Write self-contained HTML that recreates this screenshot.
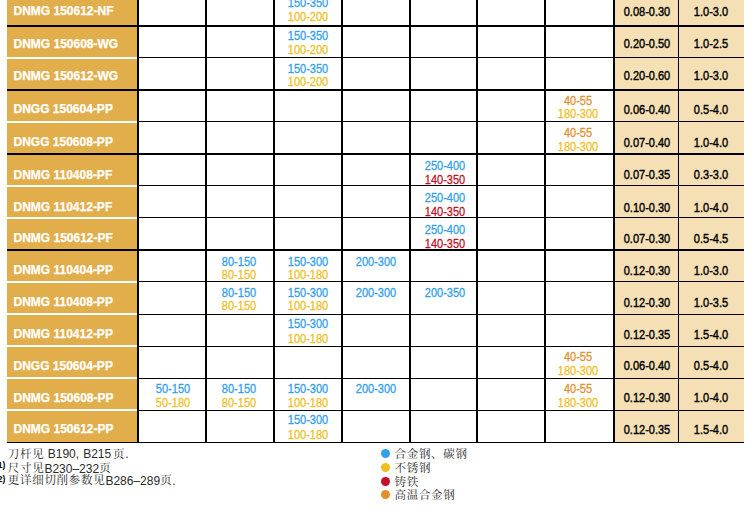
<!DOCTYPE html>
<html lang="zh-CN"><head><meta charset="utf-8"><title>DNMG</title>
<style>
html,body{margin:0;padding:0;background:#fff;}
body{width:755px;height:519px;position:relative;overflow:hidden;font-family:"Liberation Sans","Noto Sans CJK SC",sans-serif;}
.a{position:absolute;}
.k{background:#000;}
.w{background:#fff;}
.t{position:absolute;width:80px;margin-left:-40px;text-align:center;font-size:12px;line-height:12px;height:12px;white-space:nowrap;-webkit-text-stroke:0.3px currentColor;transform:scaleX(0.917);}
.n{position:absolute;left:13.5px;font-size:12px;line-height:12px;font-weight:bold;color:#fff;white-space:nowrap;-webkit-text-stroke:0.25px #fff;}
.v{color:#000;-webkit-text-stroke:0.4px #000;}
.f{position:absolute;white-space:nowrap;font-size:12px;line-height:14px;height:14px;color:#2a2a2a;}
.f .c{font-family:"Noto Serif CJK SC","Noto Sans CJK SC",serif;font-size:11.5px;letter-spacing:0.7px;font-weight:400;position:relative;top:-0.6px;}
.s{position:absolute;font-weight:bold;font-size:8.5px;line-height:8px;color:#000;}
.d{position:absolute;width:9px;height:9px;border-radius:50%;}
</style></head><body>

<div class="a" style="left:7px;top:0;width:130px;height:442px;background:#E2AE4C"></div>
<div class="a" style="left:615px;top:0;width:129px;height:442px;background:#F5E0B5"></div>
<div class="a k" style="left:7px;top:25px;width:130px;height:2px"></div>
<div class="a w" style="left:7px;top:57px;width:130px;height:2px"></div>
<div class="a k" style="left:7px;top:89px;width:130px;height:2px"></div>
<div class="a w" style="left:7px;top:121px;width:130px;height:2px"></div>
<div class="a k" style="left:7px;top:153px;width:130px;height:2px"></div>
<div class="a w" style="left:7px;top:185px;width:130px;height:2px"></div>
<div class="a w" style="left:7px;top:217px;width:130px;height:2px"></div>
<div class="a k" style="left:7px;top:249px;width:130px;height:2px"></div>
<div class="a w" style="left:7px;top:281px;width:130px;height:2px"></div>
<div class="a w" style="left:7px;top:313px;width:130px;height:2px"></div>
<div class="a w" style="left:7px;top:345px;width:130px;height:2px"></div>
<div class="a w" style="left:7px;top:377px;width:130px;height:2px"></div>
<div class="a w" style="left:7px;top:409px;width:130px;height:2px"></div>
<div class="a k" style="left:137px;top:25px;width:607px;height:2px"></div>
<div class="a k" style="left:137px;top:57px;width:607px;height:1px"></div>
<div class="a k" style="left:137px;top:89px;width:607px;height:2px"></div>
<div class="a k" style="left:137px;top:121px;width:607px;height:1px"></div>
<div class="a k" style="left:137px;top:153px;width:607px;height:2px"></div>
<div class="a k" style="left:137px;top:185px;width:607px;height:1px"></div>
<div class="a k" style="left:137px;top:217px;width:607px;height:1px"></div>
<div class="a k" style="left:137px;top:249px;width:607px;height:2px"></div>
<div class="a k" style="left:137px;top:281px;width:607px;height:1px"></div>
<div class="a k" style="left:137px;top:314px;width:607px;height:1px"></div>
<div class="a k" style="left:137px;top:346px;width:607px;height:1px"></div>
<div class="a k" style="left:137px;top:378px;width:607px;height:1px"></div>
<div class="a k" style="left:137px;top:410px;width:607px;height:1px"></div>
<div class="a k" style="left:7px;top:442px;width:737px;height:1px"></div>
<div class="a k" style="left:137px;top:0;width:2px;height:443px"></div>
<div class="a k" style="left:205px;top:0;width:2px;height:443px"></div>
<div class="a k" style="left:273px;top:0;width:2px;height:443px"></div>
<div class="a k" style="left:341px;top:0;width:2px;height:443px"></div>
<div class="a k" style="left:409px;top:0;width:2px;height:443px"></div>
<div class="a k" style="left:476px;top:0;width:2px;height:443px"></div>
<div class="a k" style="left:544px;top:0;width:2px;height:443px"></div>
<div class="a k" style="left:613px;top:0;width:2px;height:443px"></div>
<div class="a k" style="left:678px;top:0;width:1px;height:443px"></div>
<div class="n" style="top:5.10px">DNMG 150612-NF</div>
<div class="n" style="top:38.10px">DNMG 150608-WG</div>
<div class="n" style="top:70.10px">DNMG 150612-WG</div>
<div class="n" style="top:103.10px">DNGG 150604-PP</div>
<div class="n" style="top:136.10px">DNGG 150608-PP</div>
<div class="n" style="top:169.10px">DNMG 110408-PF</div>
<div class="n" style="top:201.10px">DNMG 110412-PF</div>
<div class="n" style="top:232.10px">DNMG 150612-PF</div>
<div class="n" style="top:264.10px">DNMG 110404-PP</div>
<div class="n" style="top:296.10px">DNMG 110408-PP</div>
<div class="n" style="top:328.10px">DNMG 110412-PP</div>
<div class="n" style="top:360.10px">DNGG 150604-PP</div>
<div class="n" style="top:392.10px">DNMG 150608-PP</div>
<div class="n" style="top:423.10px">DNMG 150612-PP</div>
<div class="t v" style="left:647px;top:6.10px">0.08-0.30</div>
<div class="t v" style="left:711.2px;top:6.10px">1.0-3.0</div>
<div class="t v" style="left:647px;top:38.10px">0.20-0.50</div>
<div class="t v" style="left:711.2px;top:38.10px">1.0-2.5</div>
<div class="t v" style="left:647px;top:70.10px">0.20-0.60</div>
<div class="t v" style="left:711.2px;top:70.10px">1.0-3.0</div>
<div class="t v" style="left:647px;top:104.10px">0.06-0.40</div>
<div class="t v" style="left:711.2px;top:104.10px">0.5-4.0</div>
<div class="t v" style="left:647px;top:137.10px">0.07-0.40</div>
<div class="t v" style="left:711.2px;top:137.10px">1.0-4.0</div>
<div class="t v" style="left:647px;top:169.10px">0.07-0.35</div>
<div class="t v" style="left:711.2px;top:169.10px">0.3-3.0</div>
<div class="t v" style="left:647px;top:202.10px">0.10-0.30</div>
<div class="t v" style="left:711.2px;top:202.10px">1.0-4.0</div>
<div class="t v" style="left:647px;top:233.10px">0.07-0.30</div>
<div class="t v" style="left:711.2px;top:233.10px">0.5-4.5</div>
<div class="t v" style="left:647px;top:265.10px">0.12-0.30</div>
<div class="t v" style="left:711.2px;top:265.10px">1.0-3.0</div>
<div class="t v" style="left:647px;top:297.10px">0.12-0.30</div>
<div class="t v" style="left:711.2px;top:297.10px">1.0-3.5</div>
<div class="t v" style="left:647px;top:329.10px">0.12-0.35</div>
<div class="t v" style="left:711.2px;top:329.10px">1.5-4.0</div>
<div class="t v" style="left:647px;top:360.10px">0.06-0.40</div>
<div class="t v" style="left:711.2px;top:360.10px">0.5-4.0</div>
<div class="t v" style="left:647px;top:392.10px">0.12-0.30</div>
<div class="t v" style="left:711.2px;top:392.10px">1.0-4.0</div>
<div class="t v" style="left:647px;top:424.10px">0.12-0.35</div>
<div class="t v" style="left:711.2px;top:424.10px">1.5-4.0</div>
<div class="t" style="left:307.7px;top:-2.90px;color:#31A1EB">150-350</div>
<div class="t" style="left:307.7px;top:11.10px;color:#EFBF1F">100-200</div>
<div class="t" style="left:307.7px;top:30.10px;color:#31A1EB">150-350</div>
<div class="t" style="left:307.7px;top:44.10px;color:#EFBF1F">100-200</div>
<div class="t" style="left:307.7px;top:63.10px;color:#31A1EB">150-350</div>
<div class="t" style="left:307.7px;top:76.10px;color:#EFBF1F">100-200</div>
<div class="t" style="left:577.5px;top:95.10px;color:#E2902F">40-55</div>
<div class="t" style="left:577.5px;top:108.10px;color:#EFBF1F">180-300</div>
<div class="t" style="left:577.5px;top:127.10px;color:#E2902F">40-55</div>
<div class="t" style="left:577.5px;top:141.10px;color:#EFBF1F">180-300</div>
<div class="t" style="left:445.4px;top:160.10px;color:#31A1EB">250-400</div>
<div class="t" style="left:445.4px;top:174.10px;color:#C4102A">140-350</div>
<div class="t" style="left:445.4px;top:192.10px;color:#31A1EB">250-400</div>
<div class="t" style="left:445.4px;top:206.10px;color:#C4102A">140-350</div>
<div class="t" style="left:445.4px;top:224.10px;color:#31A1EB">250-400</div>
<div class="t" style="left:445.4px;top:238.10px;color:#C4102A">140-350</div>
<div class="t" style="left:238.6px;top:256.10px;color:#31A1EB">80-150</div>
<div class="t" style="left:238.6px;top:269.10px;color:#EFBF1F">80-150</div>
<div class="t" style="left:307.7px;top:256.10px;color:#31A1EB">150-300</div>
<div class="t" style="left:307.7px;top:269.10px;color:#EFBF1F">100-180</div>
<div class="t" style="left:375.6px;top:256.10px;color:#31A1EB">200-300</div>
<div class="t" style="left:238.6px;top:287.10px;color:#31A1EB">80-150</div>
<div class="t" style="left:238.6px;top:300.10px;color:#EFBF1F">80-150</div>
<div class="t" style="left:307.7px;top:287.10px;color:#31A1EB">150-300</div>
<div class="t" style="left:307.7px;top:300.10px;color:#EFBF1F">100-180</div>
<div class="t" style="left:375.6px;top:287.10px;color:#31A1EB">200-300</div>
<div class="t" style="left:445.4px;top:287.10px;color:#31A1EB">200-350</div>
<div class="t" style="left:307.7px;top:318.10px;color:#31A1EB">150-300</div>
<div class="t" style="left:307.7px;top:333.10px;color:#EFBF1F">100-180</div>
<div class="t" style="left:577.5px;top:351.10px;color:#E2902F">40-55</div>
<div class="t" style="left:577.5px;top:365.10px;color:#EFBF1F">180-300</div>
<div class="t" style="left:172.8px;top:383.10px;color:#31A1EB">50-150</div>
<div class="t" style="left:172.8px;top:397.10px;color:#EFBF1F">50-180</div>
<div class="t" style="left:238.6px;top:383.10px;color:#31A1EB">80-150</div>
<div class="t" style="left:238.6px;top:397.10px;color:#EFBF1F">80-150</div>
<div class="t" style="left:307.7px;top:383.10px;color:#31A1EB">150-300</div>
<div class="t" style="left:307.7px;top:397.10px;color:#EFBF1F">100-180</div>
<div class="t" style="left:375.6px;top:383.10px;color:#31A1EB">200-300</div>
<div class="t" style="left:577.5px;top:383.10px;color:#E2902F">40-55</div>
<div class="t" style="left:577.5px;top:397.10px;color:#EFBF1F">180-300</div>
<div class="t" style="left:307.7px;top:414.10px;color:#31A1EB">150-300</div>
<div class="t" style="left:307.7px;top:429.10px;color:#EFBF1F">100-180</div>
<div class="f" style="left:7.8px;top:446.0px"><span class="c" style="top:0">刀杆见</span> B190,<span style="margin-left:0.7px"> </span>B215<span class="c" style="top:0;margin-left:1.8px">页</span>.</div>
<div class="s" style="left:-2.2px;top:461.2px">1)</div>
<div class="f" style="left:7.8px;top:461.0px"><span class="c">尺寸见</span>B230–232<span class="c">页</span></div>
<div class="s" style="left:-2.2px;top:474.6px">2)</div>
<div class="f" style="left:7.8px;top:473.0px"><span class="c">更详细切削参数见</span>B286–289<span class="c">页</span>.</div>
<div class="d" style="left:380.6px;top:448.7px;background:#31A1EB"></div>
<div class="f" style="left:394.5px;top:447.0px"><span class="c">合金钢、碳钢</span></div>
<div class="d" style="left:380.6px;top:462.6px;background:#EFBF1F"></div>
<div class="f" style="left:394.5px;top:461.0px"><span class="c">不锈钢</span></div>
<div class="d" style="left:380.6px;top:476.6px;background:#C4102A"></div>
<div class="f" style="left:394.5px;top:475.0px"><span class="c">铸铁</span></div>
<div class="d" style="left:380.6px;top:490.1px;background:#E2902F"></div>
<div class="f" style="left:394.5px;top:488.0px"><span class="c">高温合金钢</span></div>
</body></html>
